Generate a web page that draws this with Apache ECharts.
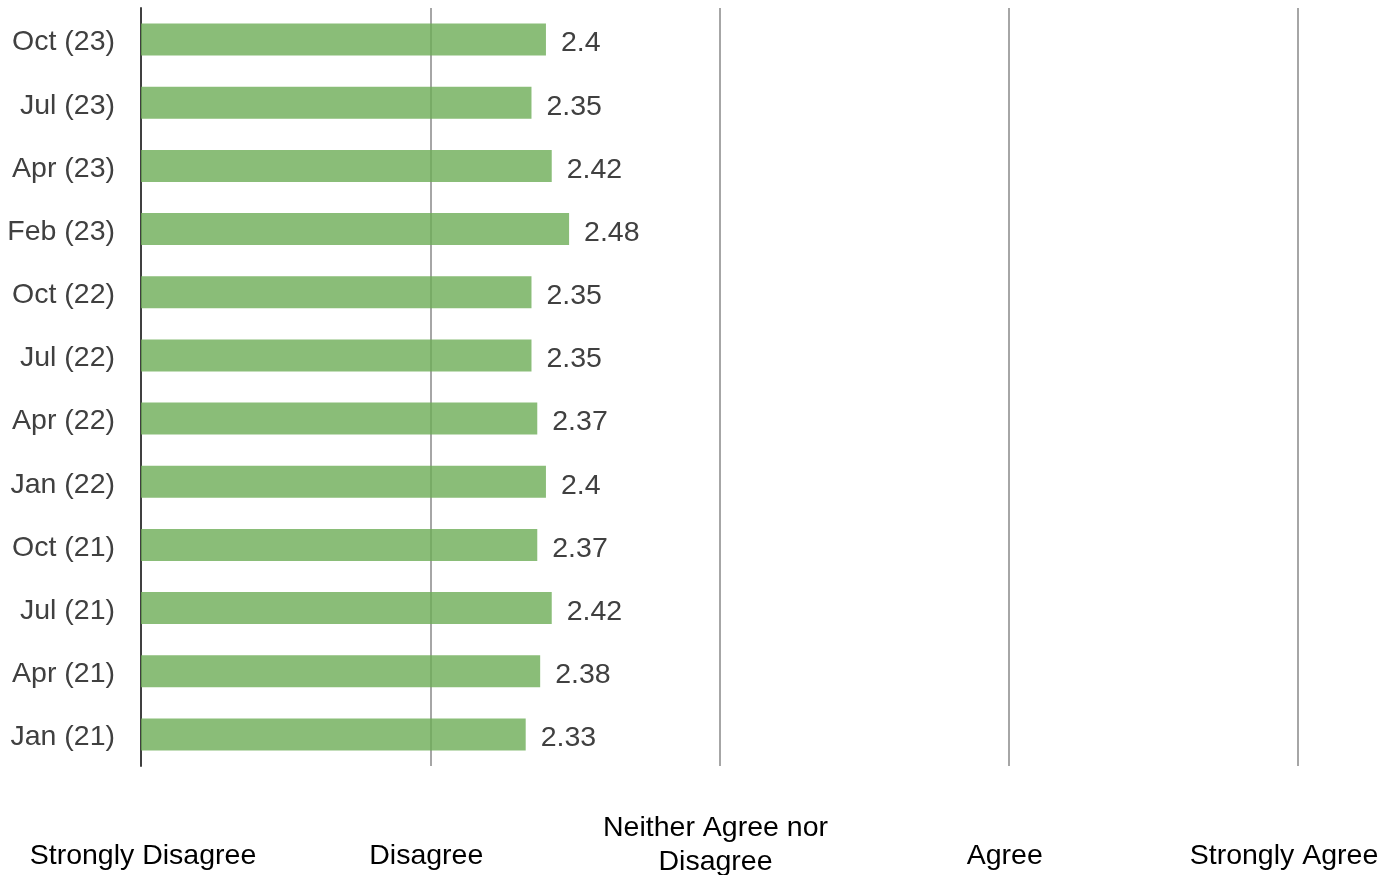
<!DOCTYPE html>
<html>
<head>
<meta charset="utf-8">
<script src="https://cdn.jsdelivr.net/npm/echarts@6/dist/echarts.min.js"></script>
<style>html,body{margin:0;padding:0;background:#fff}#c{width:1398px;height:875px}</style>
</head>
<body>
<div id="c"></div>
<script>
const categories = ['Jan (21)','Apr (21)','Jul (21)','Oct (21)','Jan (22)','Apr (22)','Jul (22)','Oct (22)','Feb (23)','Apr (23)','Jul (23)','Oct (23)'];
const values = [2.33, 2.38, 2.42, 2.37, 2.4, 2.37, 2.35, 2.35, 2.48, 2.42, 2.35, 2.4];
const scaleLabels = {1:'Strongly Disagree', 2:'Disagree', 3:'Neither Agree nor\nDisagree', 4:'Agree', 5:'Strongly Agree'};

const FONT = '"Liberation Sans", Arial, sans-serif';
const FS = 28.5;
const base = {fontSize: FS, fontFamily: FONT, color: '#000', lineHeight: 34};
const chart = echarts.init(document.getElementById('c'), null, {renderer:'canvas'});
chart.setOption({
  animation: false,
  grid: {left: 141, right: 100, top: 8, bottom: 109, containLabel: false, outerBoundsMode: 'none'},
  xAxis: [{
    type: 'value', min: 1, max: 5, interval: 1,
    axisLine: {show: false}, axisTick: {show: false},
    splitLine: {show: true, lineStyle: {color: '#a6a6a6', width: 2}},
    axisLabel: Object.assign({
      margin: 73,
      formatter: v => {
        if (v === 1) return '{a|' + scaleLabels[v] + '}';
        if (v === 5) return '{e|' + scaleLabels[v] + '}';
        if (v === 3) return '';
        return '{b|' + (scaleLabels[v] || '') + '}';
      },
      rich: {
        a: Object.assign({padding: [0, 0, 0, 4]}, base),
        b: Object.assign({padding: [0, 8, 0, 0]}, base),
        e: Object.assign({padding: [0, 28, 0, 0]}, base)
      }
    }, base)
  }, {
    type: 'value', min: 1, max: 5, interval: 1, position: 'bottom',
    axisLine: {show: false}, axisTick: {show: false}, splitLine: {show: false},
    axisLabel: Object.assign({
      margin: 79, verticalAlign: 'middle',
      formatter: v => v === 3 ? '{n|Neither Agree nor}\n{n|Disagree}' : '',
      rich: {n: Object.assign({padding: [0, 8, 0, 0]}, base)}
    }, base)
  }],
  yAxis: {
    type: 'category', data: categories,
    axisLine: {show: true, lineStyle: {color: '#404040', width: 2}},
    axisTick: {show: false},
    axisLabel: {margin: 26, fontSize: FS, fontFamily: FONT, color: '#404040', verticalAlign: 'top', lineHeight: 6}
  },
  series: [{
    type: 'bar', data: values, barWidth: 32, xAxisIndex: 0,
    itemStyle: {color: 'rgba(109,173,86,0.8)'},
    label: {show: true, position: 'right', distance: 15, offset: [0, 4], fontSize: FS, fontFamily: FONT, color: '#404040'}
  }]
});
</script>
</body>
</html>
